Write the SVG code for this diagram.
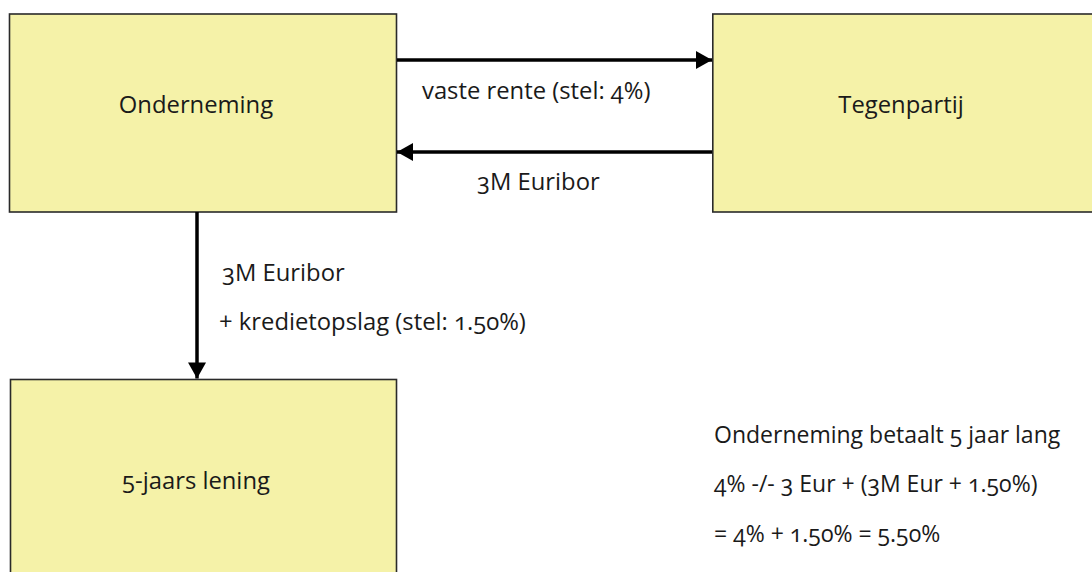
<svg xmlns="http://www.w3.org/2000/svg" width="1092" height="572" viewBox="0 0 1092 572">
<style>
.box{fill:#F5F2A8;stroke:#2a2a2a;stroke-width:1.6}
.t{font-family:"Open Sans","Liberation Sans",sans-serif;font-size:23.8px;fill:#1a1a1a;font-feature-settings:"onum" 1;font-variant-numeric:oldstyle-nums}
.n{font-size:23px}
.c{text-anchor:middle}
.conn{stroke:#000;stroke-width:3.5;fill:none}
</style>
<defs>
<marker id="ah" markerUnits="userSpaceOnUse" markerWidth="18" markerHeight="18" viewBox="0 0 16 18" refX="16" refY="9" orient="auto">
<path d="M0,0 L16,9 L0,18 Z" fill="#000"/>
</marker>
</defs>
<rect width="1092" height="572" fill="#fff"/>
<g id="onderneming">
<rect class="box" x="9.5" y="14" width="387" height="198"/>
<text class="t c" x="196" y="113">Onderneming</text>
</g>
<g id="tegenpartij">
<rect class="box" x="712.8" y="14" width="400" height="198"/>
<text class="t c" x="901" y="113">Tegenpartij</text>
</g>
<g id="lening">
<rect class="box" x="10.5" y="379.5" width="386" height="220"/>
<text class="t c" x="196" y="489">5-jaars lening</text>
</g>
<g id="connectors">
<line class="conn" x1="397" y1="60" x2="712" y2="60" marker-end="url(#ah)"/>
<line class="conn" x1="712" y1="152" x2="397" y2="152" marker-end="url(#ah)"/>
<line class="conn" x1="197" y1="212" x2="197" y2="378.5" marker-end="url(#ah)"/>
</g>
<g id="labels">
<text class="t" x="422" y="99">vaste rente (stel: 4%)</text>
<text class="t" x="477" y="190">3M Euribor</text>
<text class="t" x="222" y="281">3M Euribor</text>
<text class="t" x="219" y="330">+ kredietopslag (stel: 1.50%)</text>
</g>
<g id="note">
<text class="t n" x="714" y="443">Onderneming betaalt 5 jaar lang</text>
<text class="t n" x="714" y="492">4% -/- 3 Eur + (3M Eur + 1.50%)</text>
<text class="t n" x="714" y="542">= 4% + 1.50% = 5.50%</text>
</g>
</svg>
